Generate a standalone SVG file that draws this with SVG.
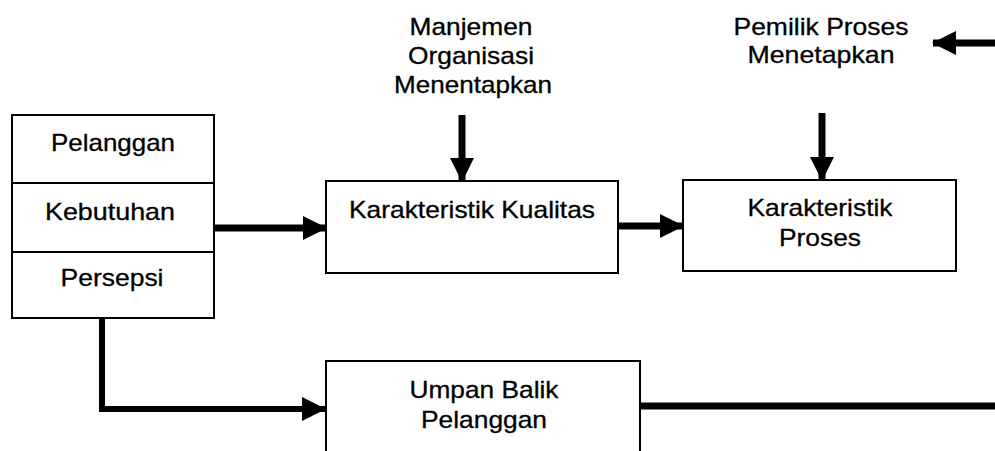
<svg xmlns="http://www.w3.org/2000/svg" width="995" height="451" viewBox="0 0 995 451">
<style>
.box{fill:#fff;stroke:#000;stroke-width:2}
.div{stroke:#000;stroke-width:2}
.t{font-family:"Liberation Sans",Arial,sans-serif;font-size:24px;fill:#000;stroke:#000;stroke-width:0.3;text-anchor:middle}
.c{fill:none;stroke:#000;stroke-width:7}
</style>
<defs>
<marker id="ah" markerUnits="userSpaceOnUse" markerWidth="24" markerHeight="24" refX="23" refY="12" orient="auto">
<path d="M0,0 L24,12 L0,24 z" fill="#000"/>
</marker>
</defs>
<rect width="995" height="451" fill="#fff"/>
<g id="connectors">
<line class="c" x1="214" y1="228" x2="326" y2="228" marker-end="url(#ah)"/>
<line class="c" x1="618" y1="226" x2="683" y2="226" marker-end="url(#ah)"/>
<line class="c" x1="462" y1="115" x2="462" y2="181" marker-end="url(#ah)"/>
<line class="c" x1="822" y1="113" x2="822" y2="180" marker-end="url(#ah)"/>
<line class="c" x1="995" y1="43" x2="933" y2="43" marker-end="url(#ah)"/>
<polyline class="c" style="stroke-width:6" points="102,318 102,409 325,409" marker-end="url(#ah)"/>
<line class="c" x1="640" y1="406" x2="995" y2="406"/>
</g>
<g id="pelanggan">
<rect class="box" x="12" y="115" width="202" height="203"/>
<line class="div" x1="12" y1="183" x2="214" y2="183"/>
<line class="div" x1="12" y1="252" x2="214" y2="252"/>
<text class="t" x="113" y="151" textLength="124" lengthAdjust="spacingAndGlyphs">Pelanggan</text>
<text class="t" x="110" y="220" textLength="130" lengthAdjust="spacingAndGlyphs">Kebutuhan</text>
<text class="t" x="112" y="286" textLength="103" lengthAdjust="spacingAndGlyphs">Persepsi</text>
</g>
<g id="manajemen">
<text class="t" x="471" y="35" textLength="123" lengthAdjust="spacingAndGlyphs">Manjemen</text>
<text class="t" x="471" y="64" textLength="126" lengthAdjust="spacingAndGlyphs">Organisasi</text>
<text class="t" x="473" y="93" textLength="158" lengthAdjust="spacingAndGlyphs">Menentapkan</text>
</g>
<g id="pemilik">
<text class="t" x="821" y="35" textLength="175" lengthAdjust="spacingAndGlyphs">Pemilik Proses</text>
<text class="t" x="821" y="63" textLength="147" lengthAdjust="spacingAndGlyphs">Menetapkan</text>
</g>
<g id="kualitas">
<rect class="box" x="326" y="181" width="292" height="92"/>
<text class="t" x="472" y="218" textLength="246" lengthAdjust="spacingAndGlyphs">Karakteristik Kualitas</text>
</g>
<g id="proses">
<rect class="box" x="683" y="180" width="273" height="91"/>
<text class="t" x="820" y="216" textLength="145" lengthAdjust="spacingAndGlyphs">Karakteristik</text>
<text class="t" x="820" y="246" textLength="82" lengthAdjust="spacingAndGlyphs">Proses</text>
</g>
<g id="umpan">
<rect class="box" x="326" y="361" width="314" height="100"/>
<text class="t" x="484" y="398" textLength="149" lengthAdjust="spacingAndGlyphs">Umpan Balik</text>
<text class="t" x="484" y="428" textLength="126" lengthAdjust="spacingAndGlyphs">Pelanggan</text>
</g>
</svg>
